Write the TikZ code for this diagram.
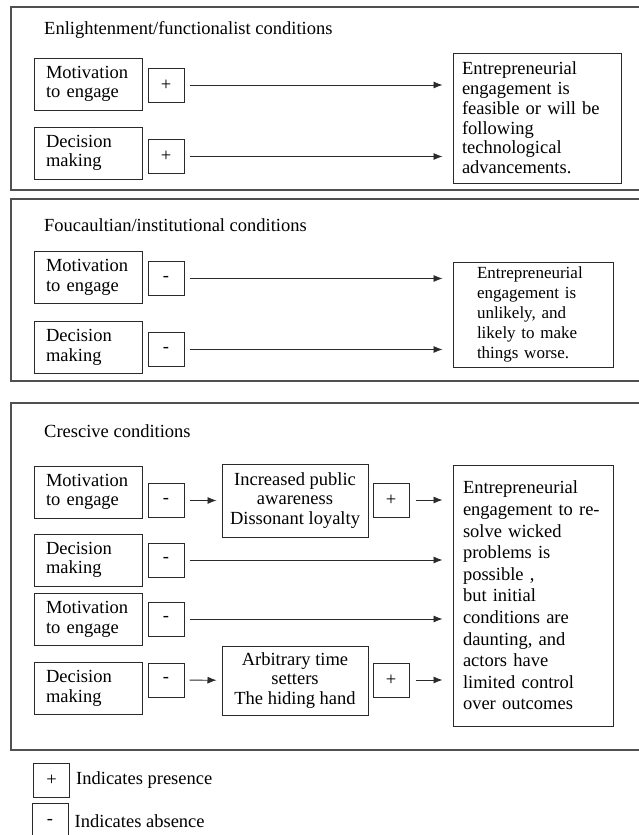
\documentclass[tikz,border=0pt]{standalone}
\usepackage{fontspec}
\setmainfont{Liberation Serif}
\usetikzlibrary{arrows.meta,positioning}
\definecolor{ink}{HTML}{2A2A2A}
\definecolor{rule}{HTML}{505050}
\newcommand{\labelfont}{\fontsize{18.5}{19.5}\selectfont}

\begin{document}
\begin{tikzpicture}[x=1pt,y=-1pt,
    frame/.style={rule,line width=1.5pt},
    factor/.style={draw=ink,line width=1pt,text width=84pt,inner xsep=12pt,inner ysep=0pt,minimum height=52pt,align=left,font=\labelfont},
    sign/.style={draw=ink,line width=1pt,minimum width=36pt,minimum height=34pt,inner sep=0pt,font=\labelfont},
    effect/.style={draw=ink,line width=1pt,minimum width=146pt,inner ysep=0pt,align=center,font=\labelfont},
    outcome/.style={draw=ink,line width=1pt,align=left,inner ysep=0pt},
    link/.style={ink,line width=0.8pt,-{Latex[length=9pt,width=7pt]}},
    heading/.style={anchor=base west,inner sep=0pt,font=\labelfont},
    keytext/.style={anchor=west,inner sep=0pt,font=\labelfont}]
  \useasboundingbox (0,0) rectangle (638,835);

  % enlightenment / functionalist
  \draw[frame] (640,7) -| (11,190) -- (640,190);
  \node[heading] (t1) at (44,34) {Enlightenment/functionalist conditions};
  \node[factor] (m1) at (88,84) {Motivation\\to engage};
  \node[sign] (p1) at (166,85) {+};
  \node[factor] (d1) at (88,153) {Decision\\making};
  \node[sign] (p2) at (166,156.5) {+};
  \node[outcome,font={\fontsize{18.5}{19.8}\selectfont},text width=150pt,inner xsep=9pt,minimum height=130pt] (r1) at (537,118)
    {Entrepreneurial\\engagement is\\feasible or will be\\following\\technological\\advancements.};
  \draw[link,shorten <=5pt,shorten >=10pt] (p1.east) -- (p1.east -| r1.west);
  \draw[link,shorten <=5pt,shorten >=10pt] (p2.east) -- (p2.east -| r1.west);

  % foucaultian / institutional
  \draw[frame] (640,199) -| (11,381) -- (640,381);
  \node[heading] (t2) at (44,231) {Foucaultian/institutional conditions};
  \node[factor] (m2) at (88,277.5) {Motivation\\to engage};
  \node[sign] (n1) at (166,278.5) {-};
  \node[factor] (d2) at (88,347.5) {Decision\\making};
  \node[sign] (n2) at (166,349.5) {-};
  \node[outcome,font={\fontsize{17}{20}\selectfont},text width=112pt,inner xsep=24pt,minimum height=105pt] (r2) at (533,314.5)
    {Entrepreneurial\\engagement is\\unlikely, and\\likely to make\\things worse.};
  \draw[link,shorten <=5pt,shorten >=10pt] (n1.east) -- (n1.east -| r2.west);
  \draw[link,shorten <=5pt,shorten >=10pt] (n2.east) -- (n2.east -| r2.west);

  % crescive
  \draw[frame] (640,403) -| (11,750) -- (640,750);
  \node[heading] (t3) at (44,437) {Crescive conditions};
  \node[factor] (m3) at (88,492) {Motivation\\to engage};
  \node[sign] (n3) at (166,500.5) {-};
  \node[effect,minimum height=73pt] (e1) at (295,500.5) {Increased public\\awareness\\Dissonant loyalty};
  \node[sign] (p3) at (391,500) {+};
  \node[outcome,font={\fontsize{18.5}{21.6}\selectfont},text width=140pt,inner xsep=10pt,minimum height=261pt] (r3) at (533,595.5)
    {Entrepreneurial\\engagement to re-\\solve wicked\\problems is\\possible ,\\but initial\\conditions are\\daunting, and\\actors have\\limited control\\over outcomes};
  \node[factor] (d3) at (88,560) {Decision\\making};
  \node[sign] (n4) at (166,560) {-};
  \node[factor] (m4) at (88,619.5) {Motivation\\to engage};
  \node[sign] (n5) at (166,619) {-};
  \node[factor] (d4) at (88,688.5) {Decision\\making};
  \node[sign] (n6) at (166,680) {-};
  \node[effect,minimum height=69pt] (e2) at (295,680.5) {Arbitrary time\\setters\\The hiding hand};
  \node[sign] (p4) at (391,680) {+};
  \draw[link,shorten <=5pt,shorten >=5pt] (n3) -- (e1);
  \draw[link,shorten <=6pt,shorten >=10pt] (p3.east) -- (p3.east -| r3.west);
  \draw[link,shorten <=5pt,shorten >=10pt] (n4.east) -- (n4.east -| r3.west);
  \draw[link,shorten <=5pt,shorten >=10pt] (n5.east) -- (n5.east -| r3.west);
  \draw[link,shorten <=5pt,shorten >=5pt] (n6) -- (e2);
  \draw[link,shorten <=6pt,shorten >=10pt] (p4.east) -- (p4.east -| r3.west);

  % key
  \node[sign] (lp) at (51.5,780) {+};
  \node[keytext,right=6pt of lp] (lpt) {Indicates presence};
  \node[sign,minimum height=37pt] (ln) at (50,821.5) {-};
  \node[keytext,right=6pt of ln] (lnt) {Indicates absence};
\end{tikzpicture}
\end{document}
